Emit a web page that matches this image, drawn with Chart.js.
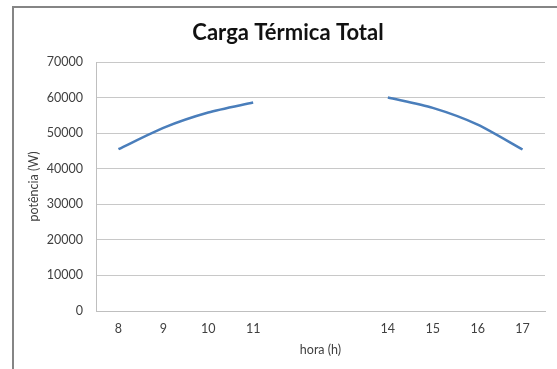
<!DOCTYPE html>
<html>
<head>
<meta charset="utf-8">
<script src="https://cdn.jsdelivr.net/npm/chart.js@4.4.1/dist/chart.umd.min.js"></script>
<style>
  html, body { margin: 0; padding: 0; background: #ffffff; }
  #wrap { width: 557px; height: 369px; position: relative; }
</style>
</head>
<body>
<div id="wrap"><canvas id="c" width="557" height="369"></canvas></div>
<script>
// Hours of the day (12 and 13 have no readings)
const hours = ['8', '9', '10', '11', '', '', '14', '15', '16', '17'];
// Total thermal load, in watts
const cargaTotal = [45500, 51500, 55800, 58600, null, null, 60000, 57100, 52400, 45400];
// Y-axis range
const yMin = 0;
const yMax = 70000;
const yStep = 10000;
const chartTitle = 'Carga Térmica Total';

const FONT = 'Lato, "Liberation Sans", sans-serif';

// White page, grey frame along the top and left edges, and the heading
const framePlugin = {
  id: 'frame',
  beforeDraw(chart) {
    const ctx = chart.ctx;
    ctx.save();
    ctx.fillStyle = '#ffffff';
    ctx.fillRect(0, 0, chart.width, chart.height);
    ctx.strokeStyle = '#858585';
    ctx.lineWidth = 2;
    ctx.beginPath();
    ctx.moveTo(13, chart.height);
    ctx.lineTo(13, 7);
    ctx.lineTo(chart.width, 7);
    ctx.stroke();
    ctx.fillStyle = '#111111';
    ctx.font = 'bold 22px ' + FONT;
    ctx.textAlign = 'center';
    ctx.textBaseline = 'middle';
    ctx.fillText(chartTitle, 288, 33);
    ctx.restore();
  }
};

new Chart(document.getElementById('c'), {
  type: 'line',
  data: {
    labels: hours,
    datasets: [{
      label: chartTitle,
      data: cargaTotal,
      borderColor: '#4a7ebb',
      borderWidth: 2.5,
      pointRadius: 0,
      pointHoverRadius: 0,
      tension: 0.25,
      spanGaps: false,
      fill: false
    }]
  },
  options: {
    responsive: false,
    animation: false,
    devicePixelRatio: 1,
    layout: { padding: { left: 0, right: 12, top: 62, bottom: 0 } },
    plugins: {
      legend: { display: false },
      tooltip: { enabled: false },
      title: { display: false }
    },
    scales: {
      x: {
        type: 'category',
        offset: true,
        grid: { display: false, drawTicks: false },
        border: { display: true, color: '#bfbfbf', width: 1 },
        ticks: {
          color: '#404040',
          font: { family: FONT, size: 12.5 },
          padding: 10,
          maxRotation: 0,
          autoSkip: false
        },
        title: {
          display: true,
          text: 'hora (h)',
          color: '#404040',
          font: { family: FONT, size: 12.5 },
          padding: { top: 4, bottom: 12 }
        },
        afterFit(scale) { scale.height = 58; }
      },
      y: {
        min: yMin,
        max: yMax,
        grid: { color: '#c8c8c8', lineWidth: 1, drawTicks: false },
        border: { display: true, color: '#bfbfbf', width: 1 },
        ticks: {
          stepSize: yStep,
          color: '#404040',
          font: { family: FONT, size: 12.5 },
          padding: 13,
          callback: (v) => String(v)
        },
        title: {
          display: true,
          text: 'potência (W)',
          color: '#404040',
          font: { family: FONT, size: 12.5 },
          padding: { top: 26, bottom: 4 }
        },
        afterFit(scale) { scale.width = 96; }
      }
    }
  },
  plugins: [framePlugin]
});
</script>
</body>
</html>
